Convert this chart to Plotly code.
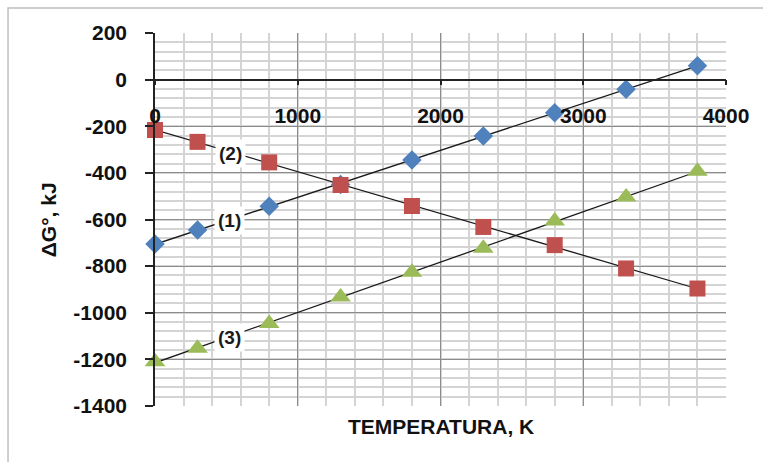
import numpy as np
import plotly.graph_objects as go

# Data
temperature = [0, 298, 800, 1300, 1800, 2300, 2800, 3300, 3800]
dg_1 = [-705, -645, -543, -450, -345, -242, -142, -41, 60]
dg_2 = [-216, -267, -355, -452, -542, -632, -710, -810, -896]
dg_3 = [-1210, -1152, -1046, -932, -826, -723, -606, -503, -393]
series_labels = ["(1)", "(2)", "(3)"]
label_x = [520, 526, 520]
label_y = [-603, -315, -1104]
y_tickvals = [200, 0, -200, -400, -600, -800, -1000, -1200, -1400]
y_ticktext = ["200", "0", "-200", "-400", "-600", "-800", "-1000", "-1200", "-1400"]
x_tickvals = [0, 1000, 2000, 3000, 4000]
x_ticktext = ["0", "1000", "2000", "3000", "4000"]

colors = ["#4F81BD", "#C0504D", "#9BBB59"]
symbols = ["diamond", "square", "triangle-up"]
sizes = [15, 16, 18]

FONT = "Liberation Sans"

fig = go.Figure()
for ys in [dg_1, dg_2, dg_3]:
    coef = np.polyfit(temperature, ys, 1)
    tx = [temperature[0], temperature[-1]]
    fig.add_trace(go.Scatter(x=tx, y=list(np.polyval(coef, tx)), mode="lines",
                             line=dict(color="#1a1a1a", width=1.3),
                             showlegend=False, hoverinfo="skip"))
for ys, c, s, sz in zip([dg_1, dg_2, dg_3], colors, symbols, sizes):
    fig.add_trace(go.Scatter(x=temperature, y=ys, mode="markers", cliponaxis=False,
                             marker=dict(color=c, symbol=s, size=sz, line=dict(width=0)),
                             showlegend=False))

for t, x, y in zip(series_labels, label_x, label_y):
    fig.add_annotation(x=x, y=y, text="<b>%s</b>" % t, showarrow=False,
                       bgcolor="white", borderpad=3,
                       font=dict(family=FONT, size=19, color="#1a1a1a"))

fig.add_annotation(x=0.5, y=-0.0563, xref="paper", yref="paper",
                   xanchor="center", yanchor="middle",
                   text="<b>TEMPERATURA, K</b>", showarrow=False,
                   font=dict(family=FONT, size=21, color="#111"))
fig.add_annotation(x=-0.186, y=0.5, xref="paper", yref="paper",
                   xanchor="center", yanchor="middle",
                   text="<b>ΔG°, kJ</b>", showarrow=False, textangle=-90,
                   font=dict(family=FONT, size=21, color="#111"))

# outer chart border
fig.add_shape(type="rect", xref="paper", yref="paper",
              x0=-0.2574, y0=-0.175, x1=1.08, y1=1.067,
              line=dict(color="#BFBFBF", width=1.5), fillcolor="rgba(0,0,0,0)",
              layer="below")

fig.update_xaxes(range=[0, 4000], tickmode="array", tickvals=x_tickvals,
                 ticktext=["<b>%s</b>" % t for t in x_ticktext],
                 anchor="free", position=0.875,
                 showline=True, linecolor="#222", linewidth=1.5,
                 ticks="outside", ticklen=5, tickcolor="#222", tickwidth=1.5,
                 ticklabelstandoff=12,
                 tickfont=dict(family=FONT, size=21, color="#111"),
                 showgrid=True, gridcolor="#8C8C8C", gridwidth=1.3,
                 zeroline=False,
                 minor=dict(dtick=200, tick0=0, showgrid=True, gridcolor="#D4D4D4", gridwidth=1.6))
fig.update_yaxes(range=[-1400, 200], tickmode="array", tickvals=y_tickvals,
                 ticktext=["<b>%s</b>" % t for t in y_ticktext],
                 showline=True, linecolor="#222", linewidth=1.5,
                 ticks="outside", ticklen=8, tickcolor="#222", tickwidth=1.5,
                 ticklabelstandoff=14,
                 tickfont=dict(family=FONT, size=21, color="#111"),
                 showgrid=True, gridcolor="#8C8C8C", gridwidth=1.3,
                 zeroline=False,
                 minor=dict(dtick=40, tick0=0, showgrid=True, gridcolor="#D4D4D4", gridwidth=1.6))

fig.update_layout(width=763, height=462,
                  margin=dict(l=155, r=37, t=33, b=56),
                  paper_bgcolor="white", plot_bgcolor="white",
                  showlegend=False)

fig.write_html("out.html", config={"displayModeBar": False},
               post_script="document.body.style.margin='0';")
